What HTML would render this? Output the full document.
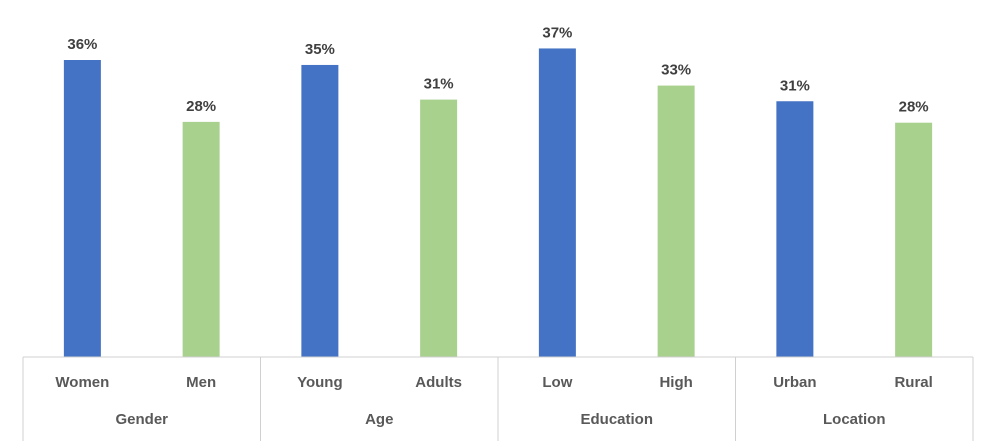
<!DOCTYPE html>
<html><head><style>
body{margin:0;background:#fff;}
svg{display:block;font-family:"Liberation Sans",sans-serif;}
</style></head><body>
<svg id="c" width="995" height="441"></svg>
<script>
const categories=["Women","Men","Young","Adults","Low","High","Urban","Rural"];
const groups=["Gender","Age","Education","Location"];
const values=[36.0,28.5,35.4,31.2,37.4,32.9,31.0,28.4];
const labels=["36%","28%","35%","31%","37%","33%","31%","28%"];
const svg=document.getElementById('c');
const NS="http://www.w3.org/2000/svg";
const x0=23,x1=973,base=357,pxPer=8.25;
const slot=(x1-x0)/categories.length;
const xPos=i=>x0+slot*(i+0.5);
const yPos=v=>base-v*pxPer;
function mk(t,a){const e=document.createElementNS(NS,t);for(const k in a)e.setAttribute(k,a[k]);svg.appendChild(e);return e;}
categories.forEach((c,i)=>{
 const cx=xPos(i),y=yPos(values[i]);
 const r=mk('rect',{x:cx-18.5,y:y,width:37,height:base-y,fill:i%2?'#a9d18e':'#4472c4'});
 
 
 const t=mk('text',{x:cx,y:y-11,'text-anchor':'middle','font-size':15,'font-weight':'bold',fill:'#404040'});
 t.textContent=labels[i];
 
 
 const l=mk('text',{x:cx,y:387,'text-anchor':'middle','font-size':15,'font-weight':'bold',fill:'#595959'});
 l.textContent=c;
 
 
});
const ax=mk('line',{x1:x0,x2:x1,y1:base,y2:base,stroke:'#d0d0d0','stroke-width':1});


for(let g=0;g<=groups.length;g++){
 const gx=x0+slot*2*g;
 const s=mk('line',{x1:gx,x2:gx,y1:base,y2:441,stroke:'#d0d0d0','stroke-width':1});
 
 
}
groups.forEach((g,i)=>{
 const t=mk('text',{x:x0+slot*(2*i+1),y:424,'text-anchor':'middle','font-size':15,'font-weight':'bold',fill:'#595959'});
 t.textContent=g;
 
 
});
</script>
</body></html>
